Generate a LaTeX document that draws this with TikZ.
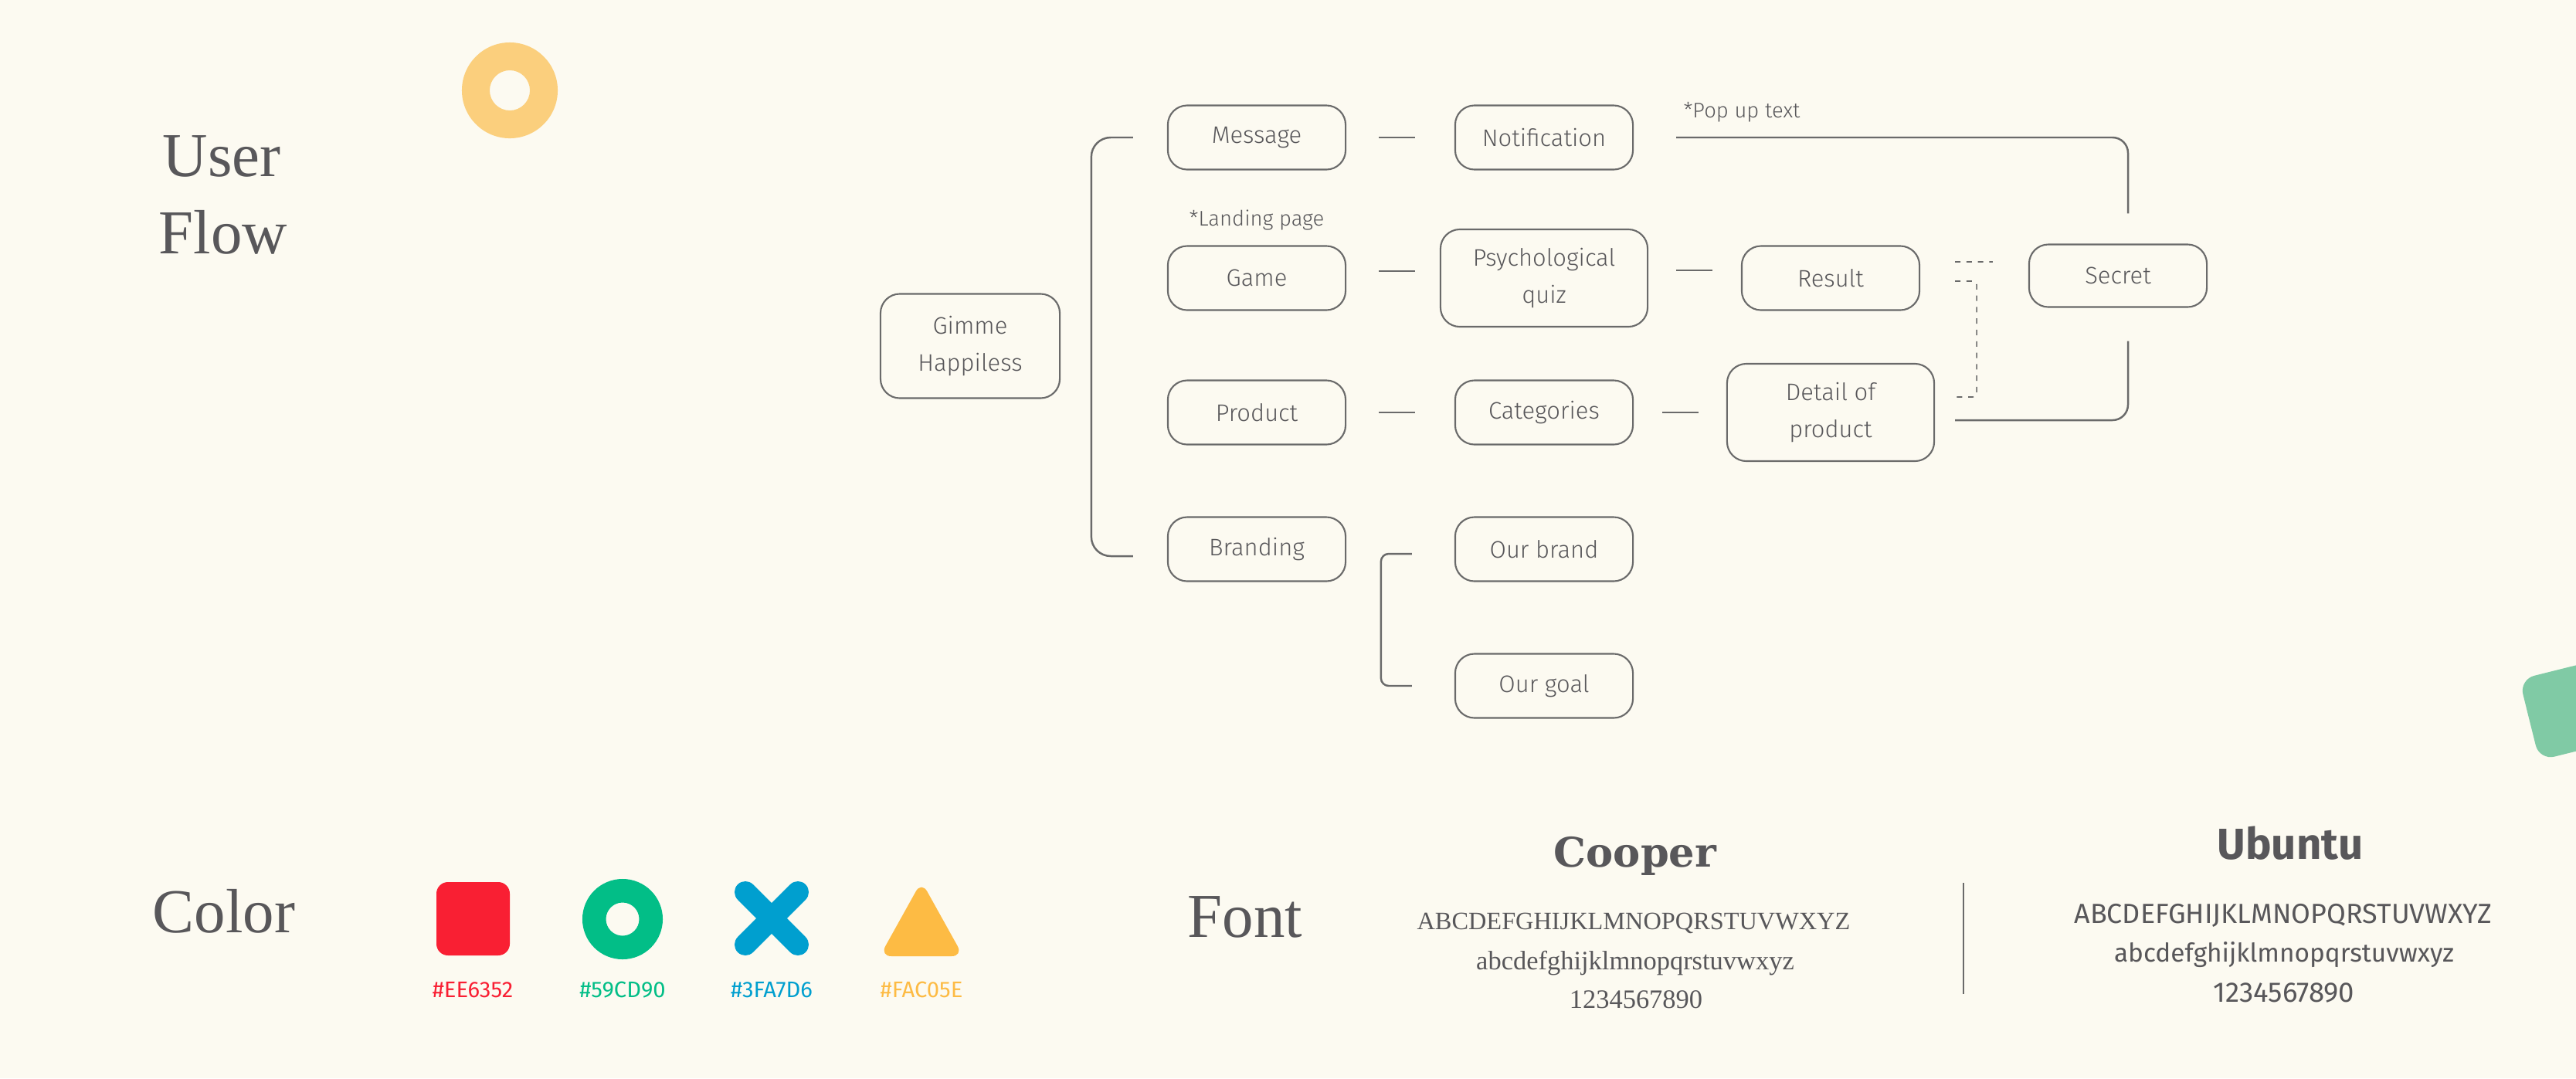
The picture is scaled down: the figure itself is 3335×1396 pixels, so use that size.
\documentclass[tikz,border=0pt]{standalone}
\usepackage{fontspec}
\usepackage{xcolor}
\usepackage{tikz}
\usetikzlibrary{positioning,calc}
\newfontfamily\ubu{Fira Sans Light}
\newfontfamily\ubureg{Fira Sans}
\newfontfamily\ububold{Fira Sans}[UprightFont={* Bold}]
\newfontfamily\cooper{DejaVu Serif}
\newfontfamily\cooperlight{Liberation Serif}
\definecolor{paper}{HTML}{FCFAF1}
\definecolor{ink}{HTML}{58575A}
\definecolor{wire}{HTML}{6A6A6A}
\definecolor{peach}{HTML}{FBCF7D}
\definecolor{mint}{HTML}{80CAA5}
\definecolor{swred}{HTML}{F91F33}
\definecolor{swgreen}{HTML}{02BE87}
\definecolor{swblue}{HTML}{009FCF}
\definecolor{swyellow}{HTML}{FDBB44}
\tikzset{
  flowbox/.style={
    rounded corners=2.5mm,draw=wire,line width=.6pt,
    minimum width=23mm,minimum height=8.3mm,inner sep=0pt,
    align=center,text=ink,font=\ubu\fontsize{8.8}{13.5}\selectfont
  },
  widebox/.style={flowbox,minimum width=26.8mm,minimum height=12.6mm},
  note/.style={text=ink,font=\ubu\fontsize{7.8}{9}\selectfont},
  hex/.style={anchor=base,font=\ubureg\fontsize{8.3}{9}\selectfont},
  title/.style={anchor=base,text=ink,font=\cooperlight\fontsize{23}{28}\selectfont},
  specimen/.style={anchor=base,text=ink},
  link/.style={draw=wire,line width=.7pt},
  dashlink/.style={draw=wire,line width=.45pt,dash pattern=on 2pt off 2.2pt}
}

\begin{document}
\begin{tikzpicture}[x=0.01cm,y=-0.01cm]
\fill[paper] (0,0) rectangle (3335,1396);
\useasboundingbox (0,0) rectangle (3335,1396);

\fill[peach,even odd rule] (660,117) circle (6.2mm) (660,117) circle (2.6mm);
\fill[mint,rounded corners=2mm,rotate around={14:(3327,919)}]
  (3273,865) rectangle (3381,973);

\node[title] (user) at (287,228) {User};
\node[title] (flow) at (289,328) {Flow};

\node[flowbox,minimum width=23.2mm,minimum height=13.5mm] (gimme) at (1256,448)
{Gimme\\Happiless};

\node[flowbox] (msg) at (1627,178) {Message};
\node[flowbox] (notif) at (1999,178) {Notification};
\node[flowbox] (game) at (1627,360) {Game};
\node[widebox] (quiz) at (1999,360) {Psychological\\quiz};
\node[flowbox] (result) at (2370,360) {Result};
\node[flowbox,minimum height=8.1mm] (secret) at (2742,357) {Secret};
\node[flowbox] (product) at (1627,534) {Product};
\node[flowbox] (categ) at (1999,534) {Categories};
\node[widebox] (detail) at (2370,534) {Detail of\\product};
\node[flowbox] (brand) at (1627,711) {Branding};
\node[flowbox] (ourbrand) at (1999,711) {Our brand};
\node[flowbox] (ourgoal) at (1999,888) {Our goal};

\node[note,above=0.7mm of game] (landing) {*Landing page};
\node[note] (popup) at (2255,145) {*Pop up text};

\draw[link,rounded corners=2.5mm] ([xshift=-4.4mm]msg.west) -- ++(-54,0)
  |- ([xshift=-4.4mm,yshift=-.9mm]brand.west);
\draw[link,rounded corners=1mm] ([xshift=-5.5mm,yshift=-.6mm]ourbrand.west) -- ++(-40,0)
  |- ([xshift=-5.5mm]ourgoal.west);

\draw[link] ([xshift=4.2mm]msg.east) -- ([xshift=-5.1mm]notif.west);
\draw[link] ([xshift=4.2mm,yshift=.9mm]game.east) -- ([xshift=-3.2mm,yshift=.9mm]quiz.west);
\draw[link] ([xshift=3.6mm,yshift=1mm]quiz.east) -- ([xshift=-3.7mm,yshift=1mm]result.west);
\draw[link] ([xshift=4.2mm]product.east) -- ([xshift=-5.1mm]categ.west);
\draw[link] ([xshift=3.7mm]categ.east) -- ([xshift=-3.6mm]detail.west);

\draw[link,rounded corners=2mm] ([xshift=5.5mm]notif.east)
  -| ([xshift=1.3mm,yshift=3.9mm]secret.north);
\draw[link,rounded corners=2mm] ([xshift=2.6mm,yshift=-1mm]detail.east)
  -| ([xshift=1.3mm,yshift=-4.3mm]secret.south);

\draw[dashlink] ([xshift=4.5mm,yshift=2.1mm]result.east) -- ([xshift=-4.6mm,yshift=1.8mm]secret.west);
\draw[dashlink,rounded corners=.5mm] ([xshift=4.5mm,yshift=-.4mm]result.east) -- ++(28,0)
  |- ([xshift=2.6mm,yshift=2mm]detail.east);

\node[title] (colortitle) at (290,1207) {Color};
\fill[swred,rounded corners=1.5mm] (565,1142) rectangle (660,1237);
\fill[swgreen,even odd rule] (806,1190) circle (5.2mm) (806,1190) circle (2.15mm);
\draw[swblue,line width=2.8mm,line cap=round] (965,1155) -- (1033,1223) (1033,1155) -- (965,1223);
\fill[swyellow,rounded corners=1.5mm] (1193,1141) -- (1247,1238) -- (1139,1238) -- cycle;
\node[hex,text=swred] (redhex) at (612,1291) {\#EE6352};
\node[hex,text=swgreen] (greenhex) at (806,1291) {\#59CD90};
\node[hex,text=swblue] (bluehex) at (999,1291) {\#3FA7D6};
\node[hex,text=swyellow] (yellowhex) at (1193,1291) {\#FAC05E};

\node[title] (fonttitle) at (1612,1213) {Font};
\node[specimen,font=\cooper\bfseries\fontsize{15}{15}\selectfont] (cooper) at (2117,1122) {Cooper};
\node[specimen,font=\cooperlight\fontsize{9.2}{9}\selectfont] (cooperup) at (2115,1203) {ABCDEFGHIJKLMNOPQRSTUVWXYZ};
\node[specimen,font=\cooperlight\fontsize{9.8}{9}\selectfont] (cooperlow) at (2117,1255) {abcdefghijklmnopqrstuvwxyz};
\node[specimen,font=\cooperlight\fontsize{9.8}{9}\selectfont] (cooperdig) at (2118,1305) {1234567890};

\draw[wire,line width=.5pt] (2542,1143) -- (2542,1287);

\node[specimen,font=\ububold\fontsize{16}{16}\selectfont] (ubuntu) at (2965,1112) {Ubuntu};
\node[specimen,font=\ubureg\fontsize{10.2}{9}\selectfont] (ubuntuup) at (2956,1195) {ABCDEFGHIJKLMNOPQRSTUVWXYZ};
\node[specimen,font=\ubureg\fontsize{9.5}{9}\selectfont] (ubuntulow) at (2957,1245) {abcdefghijklmnopqrstuvwxyz};
\node[specimen,font=\ubureg\fontsize{10.4}{9}\selectfont] (ubuntudig) at (2957,1297) {1234567890};
\end{tikzpicture}
\end{document}
